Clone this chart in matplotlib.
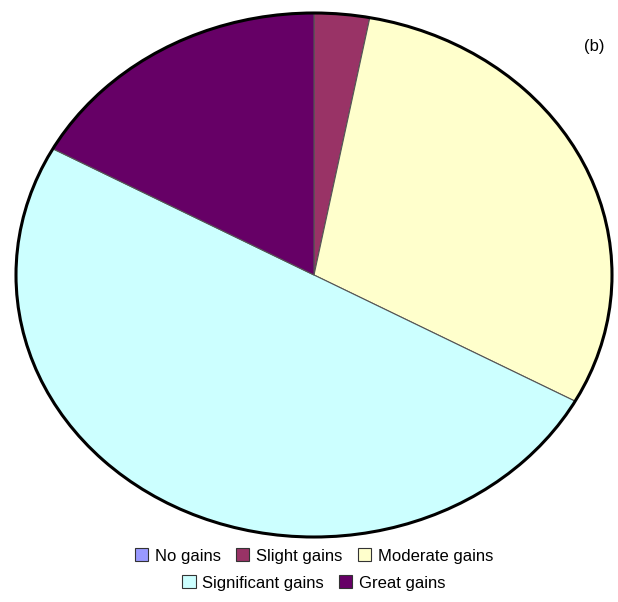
import matplotlib
matplotlib.use("Agg")
import matplotlib.pyplot as plt
from matplotlib.patches import Ellipse, Patch

categories = ["No gains", "Slight gains", "Moderate gains", "Significant gains", "Great gains"]
values = [0, 3, 30, 50, 17]
colors = ["#9999ff", "#993366", "#ffffcc", "#ccffff", "#660066"]

plt.rcParams['font.family'] = ['Liberation Sans', 'DejaVu Sans']

W, H = 618, 602
fig = plt.figure(figsize=(W/100, H/100), dpi=100)
left, right, top, bottom = 16, 612, 13, 537
ax = fig.add_axes([left/W, (H-bottom)/H, (right-left)/W, (bottom-top)/H])
ax.pie(values, colors=colors, startangle=90, counterclock=False, radius=1,
       wedgeprops=dict(edgecolor="#555555", linewidth=0.8))
el = Ellipse((0, 0), 2, 2, fill=False, edgecolor="black", linewidth=2.2, zorder=5)
el.set_clip_on(False)
ax.add_patch(el)
ax.set_aspect('auto')
ax.set_xlim(-1, 1)
ax.set_ylim(-1, 1)
ax.axis('off')

fig.text(594/W, 1-47/H, "(b)", fontsize=12, ha='center', va='center')

handles = [Patch(facecolor=c, edgecolor="#333333", linewidth=0.8) for c in colors]
leg_kw = dict(frameon=False, fontsize=12, handlelength=0.8, handleheight=0.8,
              handletextpad=0.4, columnspacing=0.9, borderaxespad=0, borderpad=0)
leg1 = fig.legend(handles[:3], categories[:3], ncol=3, loc='center',
                  bbox_to_anchor=(314/W, 1-556/H), **leg_kw)
leg2 = fig.legend(handles[3:], categories[3:], ncol=2, loc='center',
                  bbox_to_anchor=(314/W, 1-583/H), **leg_kw)

fig.savefig("out.png", dpi=100, facecolor="white")
